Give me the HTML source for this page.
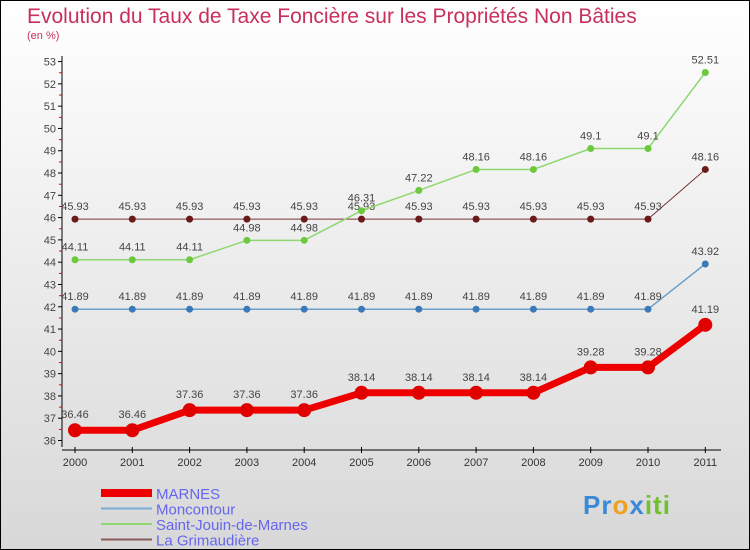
<!DOCTYPE html>
<html><head><meta charset="utf-8"><style>
body{margin:0}
#c{position:relative;width:748px;height:548px;border:1px solid #000;background:linear-gradient(#fff,#d8d8d8);font-family:"Liberation Sans",sans-serif;overflow:hidden}
</style></head><body>
<div id="c">
<svg id="s" width="748" height="548" xmlns="http://www.w3.org/2000/svg">
<text x="26" y="22" font-size="21" fill="#c8305a">Evolution du Taux de Taxe Foncière sur les Propriétés Non Bâties</text>
<text x="26" y="38" font-size="11" fill="#c8305a">(en %)</text>
<g id="axes"></g><g id="series"></g><g id="legend"></g>
</svg></div>
<script>
const years=["2000","2001","2002","2003","2004","2005","2006","2007","2008","2009","2010","2011"];
const yTicks=[36,37,38,39,40,41,42,43,44,45,46,47,48,49,50,51,52,53];
const marnes=[36.46,36.46,37.36,37.36,37.36,38.14,38.14,38.14,38.14,39.28,39.28,41.19];
const moncontour=[41.89,41.89,41.89,41.89,41.89,41.89,41.89,41.89,41.89,41.89,41.89,43.92];
const saintJouin=[44.11,44.11,44.11,44.98,44.98,46.31,47.22,48.16,48.16,49.1,49.1,52.51];
const grimaudiere=[45.93,45.93,45.93,45.93,45.93,45.93,45.93,45.93,45.93,45.93,45.93,48.16];
const names=["MARNES","Moncontour","Saint-Jouin-de-Marnes","La Grimaudière"];
const NS="http://www.w3.org/2000/svg";
const X=i=>74+i*57.3, Y=v=>439.5-(v-36)*22.29;
function mk(p,t,a){const e=document.createElementNS(NS,t);for(const k in a)e.setAttribute(k,a[k]);p.appendChild(e);return e;}
const ax=document.getElementById('axes');
let l=mk(ax,'line',{x1:61,y1:55,x2:61,y2:446,stroke:'#000'});


l=mk(ax,'line',{x1:61,y1:449,x2:720,y2:449,stroke:'#000'});


yTicks.forEach(v=>{const y=Y(v);mk(ax,'line',{x1:57,y1:y,x2:61,y2:y,stroke:'#000'});
if(v<53)mk(ax,'line',{x1:58,y1:y-11.1,x2:61,y2:y-11.1,stroke:'#e00'});
const t=mk(ax,'text',{x:55,y:y+4,'font-size':11,fill:'#444','text-anchor':'end'});t.textContent=v;

});
years.forEach((yr,i)=>{mk(ax,'line',{x1:X(i),y1:446,x2:X(i),y2:452,stroke:'#000'});
const t=mk(ax,'text',{x:X(i),y:465,'font-size':11,fill:'#333','text-anchor':'middle'});t.textContent=yr;

});
const sg=document.getElementById('series');
function series(data,col,dot,w,r,name){const g=mk(sg,'g',{});


mk(g,'polyline',{points:data.map((v,i)=>X(i)+','+Y(v)).join(' '),fill:'none',stroke:col,'stroke-width':w,'stroke-linejoin':'round'});
data.forEach((v,i)=>{const c=mk(g,'circle',{cx:X(i),cy:Y(v),r:r,fill:dot});


const t=mk(g,'text',{x:X(i),y:Y(v)-9-(r>4?3:0),'font-size':11,fill:'#444','text-anchor':'middle'});t.textContent=v;

});}
series(grimaudiere,'#7a3434','#6b1a1a',1,3.5,'series-la-grimaudiere');
series(saintJouin,'#8fd870','#6cc83c',1.5,3.5,'series-saint-jouin-de-marnes');
series(moncontour,'#6a9ec8','#3a7ab8',1.5,3.5,'series-moncontour');
series(marnes,'#ee0000','#e00000',7,7,'series-marnes');
const lg=document.getElementById('legend');
const lc=['#ee0000','#7aabd0','#8fd870','#8a5a5a'],lw=[8,2,2,2];
names.forEach((n,i)=>{const y=492+i*15.5;const g=mk(lg,'g',{});


mk(g,'line',{x1:100,y1:y,x2:151,y2:y,stroke:lc[i],'stroke-width':lw[i]});
const t=mk(g,'text',{x:155,y:y+6,'font-size':15,fill:'#6666ee'});t.textContent=n;});
</script>
<div style="position:absolute;left:583px;top:490px;font:bold 26px 'Liberation Sans',sans-serif;letter-spacing:1px"><span style="color:#3a8ad8">Pr</span><span style="color:#f0a020">o</span><span style="color:#3a8ad8">x</span><span style="color:#70c030">iti</span></div>
</body></html>
